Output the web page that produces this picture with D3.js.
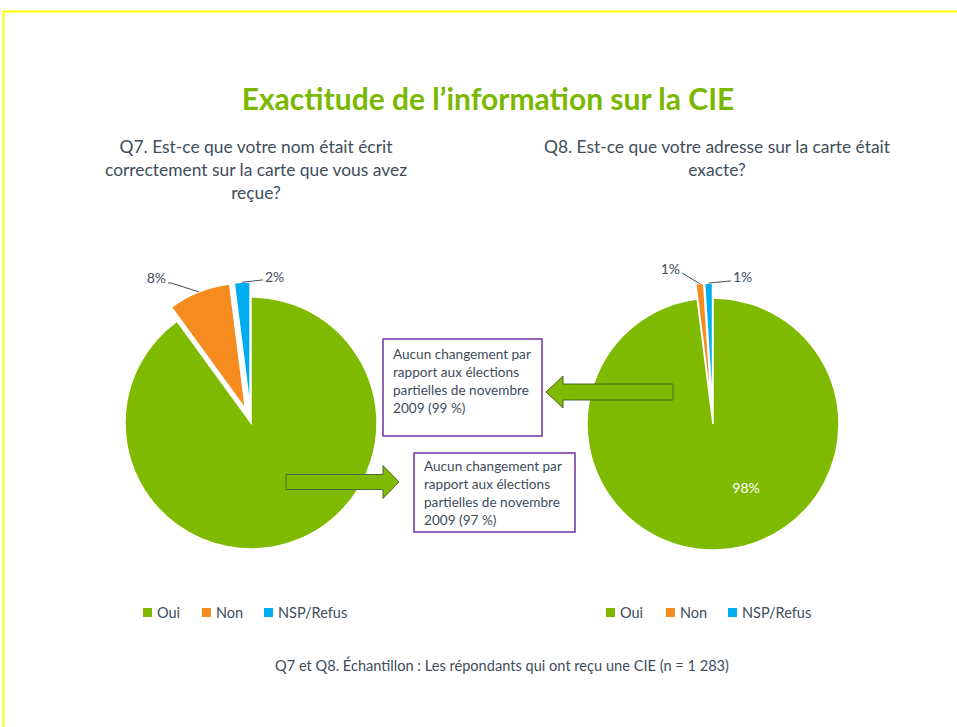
<!DOCTYPE html>
<html>
<head>
<meta charset="utf-8">
<script src="https://cdn.jsdelivr.net/npm/d3@7/dist/d3.min.js"></script>
<style>
  body { margin: 0; background: #fff; }
  svg { display: block; font-family: Lato, "Open Sans", sans-serif; }
</style>
</head>
<body>
<div id="chart"></div>
<script>
// data
const categories = ["Oui", "Non", "NSP/Refus"];
const q7Values = [90, 8, 2];
const q8Values = [98, 1, 1];
const colors = ["#7FBA00", "#F68B1F", "#00AEEF"];

const title = "Exactitude de l\u2019information sur la CIE";
const q7Title = ["Q7. Est-ce que votre nom \u00e9tait \u00e9crit", "correctement sur la carte que vous avez", "re\u00e7ue?"];
const q8Title = ["Q8. Est-ce que votre adresse sur la carte \u00e9tait", "exacte?"];
const q7Note = ["Aucun changement par", "rapport aux \u00e9lections", "partielles de novembre", "2009 (97 %)"];
const q8Note = ["Aucun changement par", "rapport aux \u00e9lections", "partielles de novembre", "2009 (99 %)"];
const footnote = "Q7 et Q8. \u00c9chantillon : Les r\u00e9pondants qui ont re\u00e7u une CIE (n = 1 283)";

const W = 957, H = 727;
const textColor = "#404d5b";

const svg = d3.select("#chart").append("svg")
    .attr("width", W)
    .attr("height", H);

// slide border (only top/left visible)
svg.append("rect")
    .attr("x", 3.5).attr("y", 11.5)
    .attr("width", 1000).attr("height", 800)
    .attr("fill", "none")
    .attr("stroke", "#FFFF00")
    .attr("stroke-width", 2);

svg.append("text")
    .attr("x", 488).attr("y", 110)
    .attr("text-anchor", "middle")
    .style("font-size", "30px")
    .style("font-weight", "bold")
    .style("fill", "#7AB800")
    .text(title);

function multiline(lines, cx, y0, lh, size) {
    const t = svg.append("text")
        .attr("text-anchor", "middle")
        .style("font-size", size + "px")
        .style("fill", textColor);
    lines.forEach((l, i) => {
        t.append("tspan").attr("x", cx).attr("y", y0 + i * lh).text(l);
    });
}
multiline(q7Title, 256, 153, 23, 17.4);
multiline(q8Title, 717, 153, 23, 17.4);

const radius = 126, explode = 15;
const pie = d3.pie().sort(null).value(d => d.value);
const arc = d3.arc().innerRadius(0).outerRadius(radius);

// labels: position of label relative to pie centre, and leader elbow point
function drawPie(values, cx, cy, labels) {
    const data = pie(values.map((v, i) => ({name: categories[i], value: v})));
    const g = svg.append("g").attr("transform", `translate(${cx},${cy})`);
    const off = d => {
        if (d.index === 0) return [0, 0];
        const a = (d.startAngle + d.endAngle) / 2;
        return [explode * Math.sin(a), -explode * Math.cos(a)];
    };
    g.selectAll("path")
        .data(data)
        .enter()
        .append("path")
        .attr("transform", d => `translate(${off(d)})`)
        .attr("d", arc)
        .attr("fill", (d, i) => colors[i])
        .attr("stroke", "#fff")
        .attr("stroke-width", 1.5);

    labels.forEach(lb => {
        const d = data[lb.i];
        const a = (d.startAngle + d.endAngle) / 2;
        if (lb.inside) {
            g.append("text")
                .attr("x", lb.x).attr("y", lb.y)
                .attr("dy", "0.35em")
                .attr("text-anchor", "middle")
                .style("font-size", "14px")
                .style("fill", "#fff")
                .text(d.value + "%");
            return;
        }
        const r = radius + explode;
        const p0 = [r * Math.sin(a), -r * Math.cos(a)];
        g.append("path")
            .attr("d", d3.line()([p0, lb.elbow, [lb.x + (lb.anchor === "end" ? 2 : -2), lb.elbow[1]]]))
            .attr("fill", "none")
            .attr("stroke", "#404d5b")
            .attr("stroke-width", 1);
        g.append("text")
            .attr("x", lb.x).attr("y", lb.y)
            .attr("dy", "0.35em")
            .attr("text-anchor", lb.anchor)
            .style("font-size", "14px")
            .style("fill", textColor)
            .text(d.value + "%");
    });
}

drawPie(q7Values, 251, 423, [
    {i: 1, x: -85, y: -145, anchor: "end", elbow: [-80, -140]},
    {i: 2, x: 14, y: -146, anchor: "start", elbow: [11, -143]}
]);
drawPie(q8Values, 713, 424, [
    {i: 1, x: -33, y: -155, anchor: "end", elbow: [-31, -151]},
    {i: 2, x: 20, y: -147, anchor: "start", elbow: [17, -143]},
    {i: 0, inside: true, x: 33, y: 64}
]);

// block arrows
function blockArrow(x0, x1, yc, shaftH, headH, headL) {
    const dir = x1 > x0 ? 1 : -1;
    const xb = x1 - dir * headL;
    const pts = [
        [x0, yc - shaftH / 2], [xb, yc - shaftH / 2], [xb, yc - headH / 2],
        [x1, yc], [xb, yc + headH / 2], [xb, yc + shaftH / 2], [x0, yc + shaftH / 2]
    ];
    svg.append("path")
        .attr("d", d3.line()(pts) + "Z")
        .attr("fill", "#7FBA00")
        .attr("stroke", "#4a6b2a")
        .attr("stroke-width", 1);
}
blockArrow(673, 546, 392, 16, 32, 17);
blockArrow(286, 399, 482, 15, 33, 16);

function noteBox(lines, x, y, w, h, ty) {
    svg.append("rect")
        .attr("x", x).attr("y", y).attr("width", w).attr("height", h)
        .attr("fill", "#fff")
        .attr("stroke", "#7030A0")
        .attr("stroke-width", 1.5);
    const t = svg.append("text")
        .style("font-size", "13.6px")
        .style("fill", textColor);
    lines.forEach((l, i) => {
        t.append("tspan").attr("x", x + 10).attr("y", ty + i * 18).text(l);
    });
}
noteBox(q8Note, 383, 339, 159, 97, 359);
noteBox(q7Note, 414, 453, 161, 79, 471);

// legends
function legend(x0, xs) {
    const g = svg.append("g").attr("transform", `translate(${x0},613)`);
    const items = g.selectAll("g")
        .data(categories)
        .enter()
        .append("g")
        .attr("transform", (d, i) => `translate(${xs[i]},0)`);
    items.append("rect")
        .attr("x", 0).attr("y", -5)
        .attr("width", 9).attr("height", 9)
        .attr("fill", (d, i) => colors[i]);
    items.append("text")
        .attr("x", 14).attr("y", 0)
        .attr("dy", "0.35em")
        .style("font-size", "14.5px")
        .style("fill", textColor)
        .text(d => d);
}
legend(143, [0, 59, 121]);
legend(606, [0, 60, 122]);

svg.append("text")
    .attr("x", 502).attr("y", 666)
    .attr("dy", "0.35em")
    .attr("text-anchor", "middle")
    .style("font-size", "14.6px")
    .style("fill", textColor)
    .text(footnote);
</script>
</body>
</html>
